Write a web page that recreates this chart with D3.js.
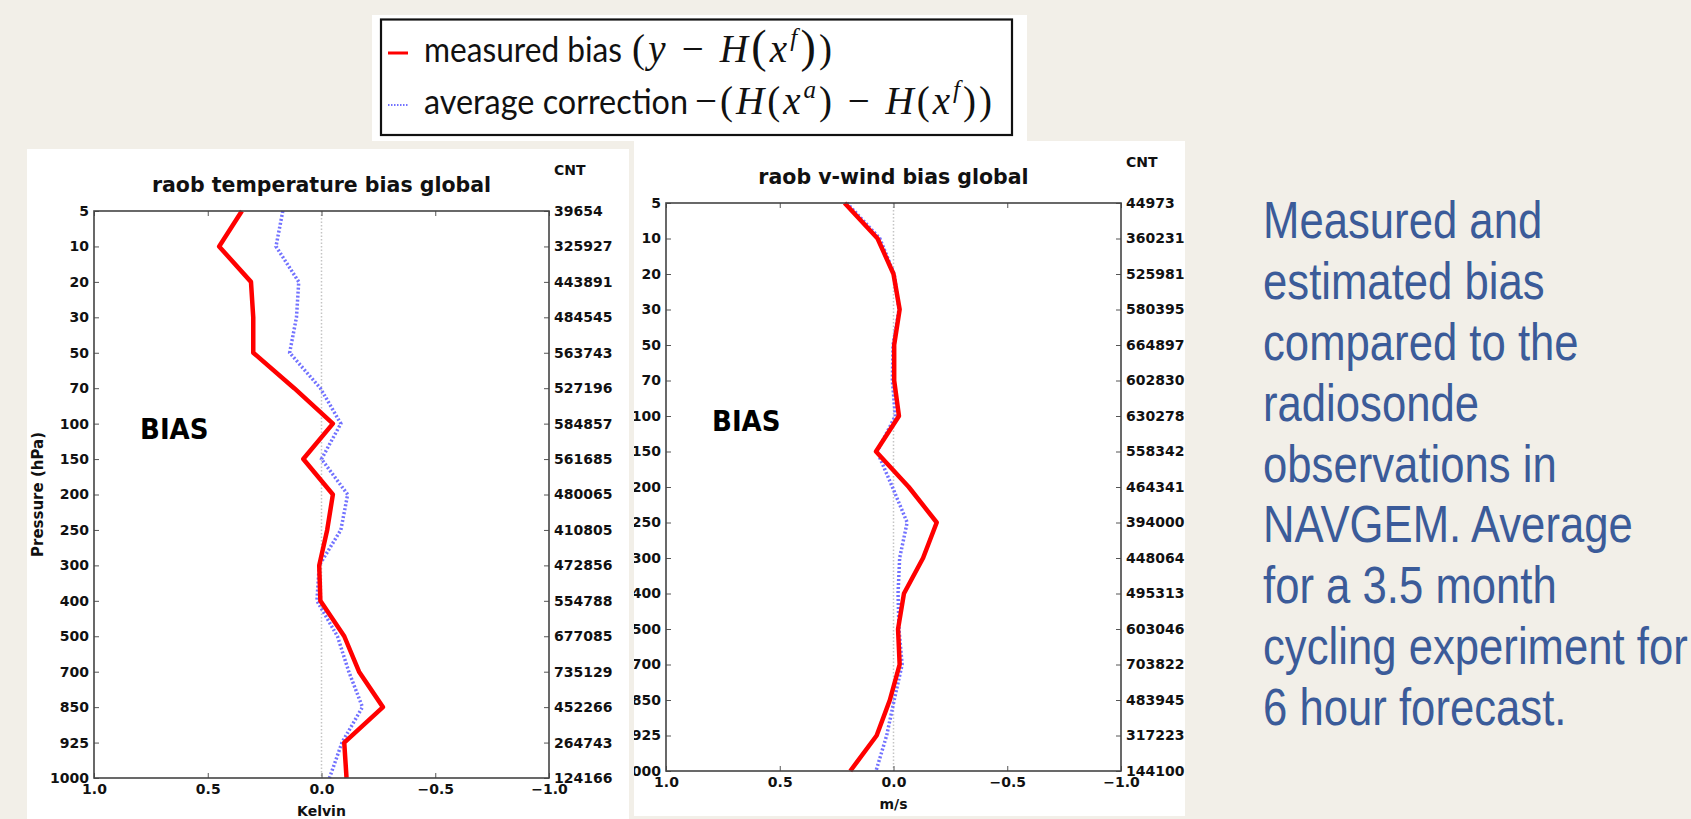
<!DOCTYPE html>
<html>
<head>
<meta charset="utf-8">
<script src="https://cdn.jsdelivr.net/npm/d3@7"></script>
<style>
  body { margin: 0; background: #f2efe8; }
  svg { display: block; }
</style>
</head>
<body>
<script>
// pressure levels (hPa), shared by both panels
const levels = [5, 10, 20, 30, 50, 70, 100, 150, 200, 250, 300, 400, 500, 700, 850, 925, 1000];

// temperature panel (Kelvin)
const tempBias = [0.35, 0.45, 0.31, 0.30, 0.30, 0.12, -0.05, 0.08, -0.05, -0.025, 0.01, 0.005, -0.10, -0.165, -0.27, -0.10, -0.11];
const tempCorr = [0.17, 0.20, 0.10, 0.11, 0.14, 0.005, -0.085, 0.0, -0.115, -0.085, 0.01, 0.02, -0.07, -0.12, -0.18, -0.09, -0.035];
const tempCnt = [39654, 325927, 443891, 484545, 563743, 527196, 584857, 561685, 480065, 410805, 472856, 554788, 677085, 735129, 452266, 264743, 124166];

// v-wind panel (m/s)
const windBias = [0.215, 0.07, 0.0, -0.027, -0.003, -0.003, -0.024, 0.077, -0.067, -0.19, -0.13, -0.046, -0.02, -0.027, 0.016, 0.074, 0.19];
const windCorr = [0.205, 0.06, -0.003, -0.024, 0.002, 0.005, -0.008, 0.072, 0.005, -0.06, -0.027, -0.02, -0.024, -0.038, -0.003, 0.03, 0.077];
const windCnt = [44973, 360231, 525981, 580395, 664897, 602830, 630278, 558342, 464341, 394000, 448064, 495313, 603046, 703822, 483945, 317223, 144100];

const xTicks = [1.0, 0.5, 0.0, -0.5, -1.0];

const legendLabels = ["measured bias", "average correction"];
const noteLines = [
  "Measured and",
  "estimated bias",
  "compared to the",
  "radiosonde",
  "observations in",
  "NAVGEM. Average",
  "for a 3.5 month",
  "cycling experiment for",
  "6 hour forecast."
];

const W = 1691, H = 819;
const BIAS_RED = "#ff0000";
const CORR_BLUE = "#7272ff";
const AXIS_FONT = "'DejaVu Sans', Verdana, sans-serif";

const svg = d3.select("body").append("svg")
    .attr("width", W)
    .attr("height", H);

svg.append("rect")
    .attr("width", W)
    .attr("height", H)
    .attr("fill", "#f2efe8");

const defs = svg.append("defs");

// the two matplotlib figures pasted onto the slide
const panels = [
  { title: "raob temperature bias global", unit: "Kelvin", yLabel: "Pressure (hPa)",
    bias: tempBias, corr: tempCorr, cnt: tempCnt,
    box: { x0: 27, y0: 149, x1: 629, y1: 819 },
    plot: { left: 94, top: 211, right: 549, bottom: 778 } },
  { title: "raob v-wind bias global", unit: "m/s", yLabel: null,
    bias: windBias, corr: windCorr, cnt: windCnt,
    box: { x0: 634, y0: 141, x1: 1185, y1: 816 },
    plot: { left: 666, top: 203, right: 1121, bottom: 771 } }
];

panels.forEach((p, i) => {
  defs.append("clipPath").attr("id", "clip" + i)
    .append("rect")
      .attr("x", p.box.x0).attr("y", p.box.y0)
      .attr("width", p.box.x1 - p.box.x0).attr("height", p.box.y1 - p.box.y0);

  const g = svg.append("g").attr("clip-path", `url(#clip${i})`);

  g.append("rect")
      .attr("x", p.box.x0).attr("y", p.box.y0)
      .attr("width", p.box.x1 - p.box.x0).attr("height", p.box.y1 - p.box.y0)
      .attr("fill", "#ffffff");

  const x = d3.scaleLinear().domain([1, -1]).range([p.plot.left, p.plot.right]);
  const y = d3.scalePoint().domain(levels).range([p.plot.top, p.plot.bottom]);

  // dotted zero line
  g.append("line")
      .attr("x1", x(0)).attr("x2", x(0))
      .attr("y1", p.plot.top).attr("y2", p.plot.bottom)
      .attr("stroke", "#c4c4c4")
      .attr("stroke-width", 1.5)
      .attr("stroke-dasharray", "1.5,2");

  const line = d3.line()
      .x(d => x(d.v))
      .y(d => y(d.p));

  g.append("path")
      .datum(levels.map((l, k) => ({ p: l, v: p.corr[k] })))
      .attr("d", line)
      .attr("fill", "none")
      .attr("stroke", CORR_BLUE)
      .attr("stroke-width", 3.5)
      .attr("stroke-dasharray", "2,2");

  g.append("path")
      .datum(levels.map((l, k) => ({ p: l, v: p.bias[k] })))
      .attr("d", line)
      .attr("fill", "none")
      .attr("stroke", BIAS_RED)
      .attr("stroke-width", 4.5)
      .attr("stroke-linejoin", "round");

  // axes, matplotlib style: inward ticks, bold labels
  const styleAxis = sel => {
    sel.select(".domain").remove();
    sel.selectAll(".tick line").attr("stroke", "#555").attr("stroke-width", 1);
    sel.selectAll("text")
        .attr("fill", "#111")
        .attr("font-family", AXIS_FONT)
        .attr("font-weight", "bold")
        .attr("font-size", 14);
  };

  g.append("g")
      .attr("transform", `translate(${p.plot.left},0)`)
      .call(d3.axisLeft(y).tickSizeInner(-5).tickSizeOuter(0).tickPadding(5))
      .call(styleAxis);

  g.append("g")
      .attr("transform", `translate(${p.plot.right},0)`)
      .call(d3.axisRight(y).tickSizeInner(-5).tickSizeOuter(0).tickPadding(5)
          .tickFormat(d => p.cnt[levels.indexOf(d)]))
      .call(styleAxis);

  g.append("g")
      .attr("transform", `translate(0,${p.plot.bottom})`)
      .call(d3.axisBottom(x).tickValues(xTicks).tickSizeInner(-5).tickSizeOuter(0).tickPadding(6)
          .tickFormat(d3.format(".1f")))
      .call(styleAxis);

  g.append("g")
      .attr("transform", `translate(0,${p.plot.top})`)
      .call(d3.axisTop(x).tickValues(xTicks).tickSizeInner(-5).tickSizeOuter(0).tickFormat(""))
      .call(styleAxis);

  // frame
  g.append("rect")
      .attr("x", p.plot.left).attr("y", p.plot.top)
      .attr("width", p.plot.right - p.plot.left).attr("height", p.plot.bottom - p.plot.top)
      .attr("fill", "none")
      .attr("stroke", "#444")
      .attr("stroke-width", 1.6);

  g.append("text")
      .attr("x", (p.plot.left + p.plot.right) / 2)
      .attr("y", p.plot.top - 19)
      .attr("text-anchor", "middle")
      .attr("font-family", AXIS_FONT)
      .attr("font-weight", "bold")
      .attr("font-size", 20.5)
      .attr("fill", "#111")
      .text(p.title);

  g.append("text")
      .attr("x", p.plot.right + 5)
      .attr("y", p.plot.top - 36)
      .attr("font-family", AXIS_FONT)
      .attr("font-weight", "bold")
      .attr("font-size", 14)
      .attr("fill", "#111")
      .text("CNT");

  g.append("text")
      .attr("x", p.plot.left + 46)
      .attr("y", p.plot.top + 228)
      .attr("font-family", "'DejaVu Sans Condensed', 'DejaVu Sans', sans-serif")
      .attr("font-stretch", "condensed")
      .attr("font-weight", "bold")
      .attr("font-size", 29)
      .attr("fill", "#000")
      .text("BIAS");

  g.append("text")
      .attr("x", (p.plot.left + p.plot.right) / 2)
      .attr("y", p.plot.bottom + 38)
      .attr("text-anchor", "middle")
      .attr("font-family", AXIS_FONT)
      .attr("font-weight", "bold")
      .attr("font-size", 14)
      .attr("fill", "#111")
      .text(p.unit);

  if (p.yLabel) {
    g.append("text")
        .attr("transform", `translate(${p.plot.left - 51},${(p.plot.top + p.plot.bottom) / 2}) rotate(-90)`)
        .attr("text-anchor", "middle")
        .attr("font-family", AXIS_FONT)
        .attr("font-weight", "bold")
        .attr("font-size", 15)
        .attr("fill", "#111")
        .text(p.yLabel);
  }
});

// legend box at the top
const lg = svg.append("g");
lg.append("rect")
    .attr("x", 372).attr("y", 15)
    .attr("width", 655).attr("height", 126)
    .attr("fill", "#ffffff");
lg.append("rect")
    .attr("x", 381).attr("y", 19.5)
    .attr("width", 631).attr("height", 115.5)
    .attr("fill", "none")
    .attr("stroke", "#111")
    .attr("stroke-width", 2.2);

// math tokens: [text, kind]
const legendMath = [
  [["(", ""], ["y", "i"], [" − ", ""], ["H", "i"], ["(", "big"], ["x", "i"], ["f", "sup"], [")", "big"], [")", ""]],
  [["−(", ""], ["H", "i"], ["(", ""], ["x", "i"], ["a", "sup"], [")", ""], [" − ", ""], ["H", "i"], ["(", ""],
   ["x", "i"], ["f", "sup"], [")", ""], [")", ""]]
];
// [label start, label end, formula start, formula end]
const legendSpan = [[424, 622, 632, 832], [424, 688, 695, 992]];
const legendRowY = [62, 114];

legendLabels.forEach((lab, r) => {
  const yb = legendRowY[r];
  const [l0, l1, m0, m1] = legendSpan[r];

  lg.append("line")
      .attr("x1", 388).attr("x2", 408)
      .attr("y1", yb - 9).attr("y2", yb - 9)
      .attr("stroke", r === 0 ? BIAS_RED : CORR_BLUE)
      .attr("stroke-width", r === 0 ? 3 : 2)
      .attr("stroke-dasharray", r === 0 ? null : "1.5,1.5");

  lg.append("text")
      .attr("x", l0)
      .attr("y", yb)
      .attr("fill", "#111")
      .attr("font-family", "Lato, 'Open Sans', sans-serif")
      .attr("font-size", 34)
      .attr("textLength", l1 - l0)
      .attr("lengthAdjust", "spacingAndGlyphs")
      .text(lab);

  const mt = lg.append("text")
      .attr("x", m0)
      .attr("y", yb)
      .attr("fill", "#111")
      .attr("font-family", "'Liberation Serif', 'DejaVu Serif', serif")
      .attr("font-size", 39)
      .attr("textLength", m1 - m0)
      .attr("lengthAdjust", "spacing");

  let shift = 0;
  legendMath[r].forEach(([s, kind]) => {
    const want = kind === "sup" ? -16 : 0;
    mt.append("tspan")
        .attr("dy", want - shift)
        .attr("font-style", kind === "i" || kind === "sup" ? "italic" : "normal")
        .attr("font-size", kind === "sup" ? 25 : kind === "big" ? 46 : 39)
        .text(s);
    shift = want;
  });
});

// slide text on the right
const note = svg.append("g")
    .attr("transform", "translate(1263,0) scale(0.84,1)");
note.selectAll("text")
    .data(noteLines)
    .enter().append("text")
    .attr("x", 0)
    .attr("y", (d, i) => 238.5 + i * 60.8)
    .attr("font-family", "'Liberation Sans', Arial, sans-serif")
    .attr("font-size", 52)
    .attr("fill", "#3b5b99")
    .text(d => d);
</script>
</body>
</html>
